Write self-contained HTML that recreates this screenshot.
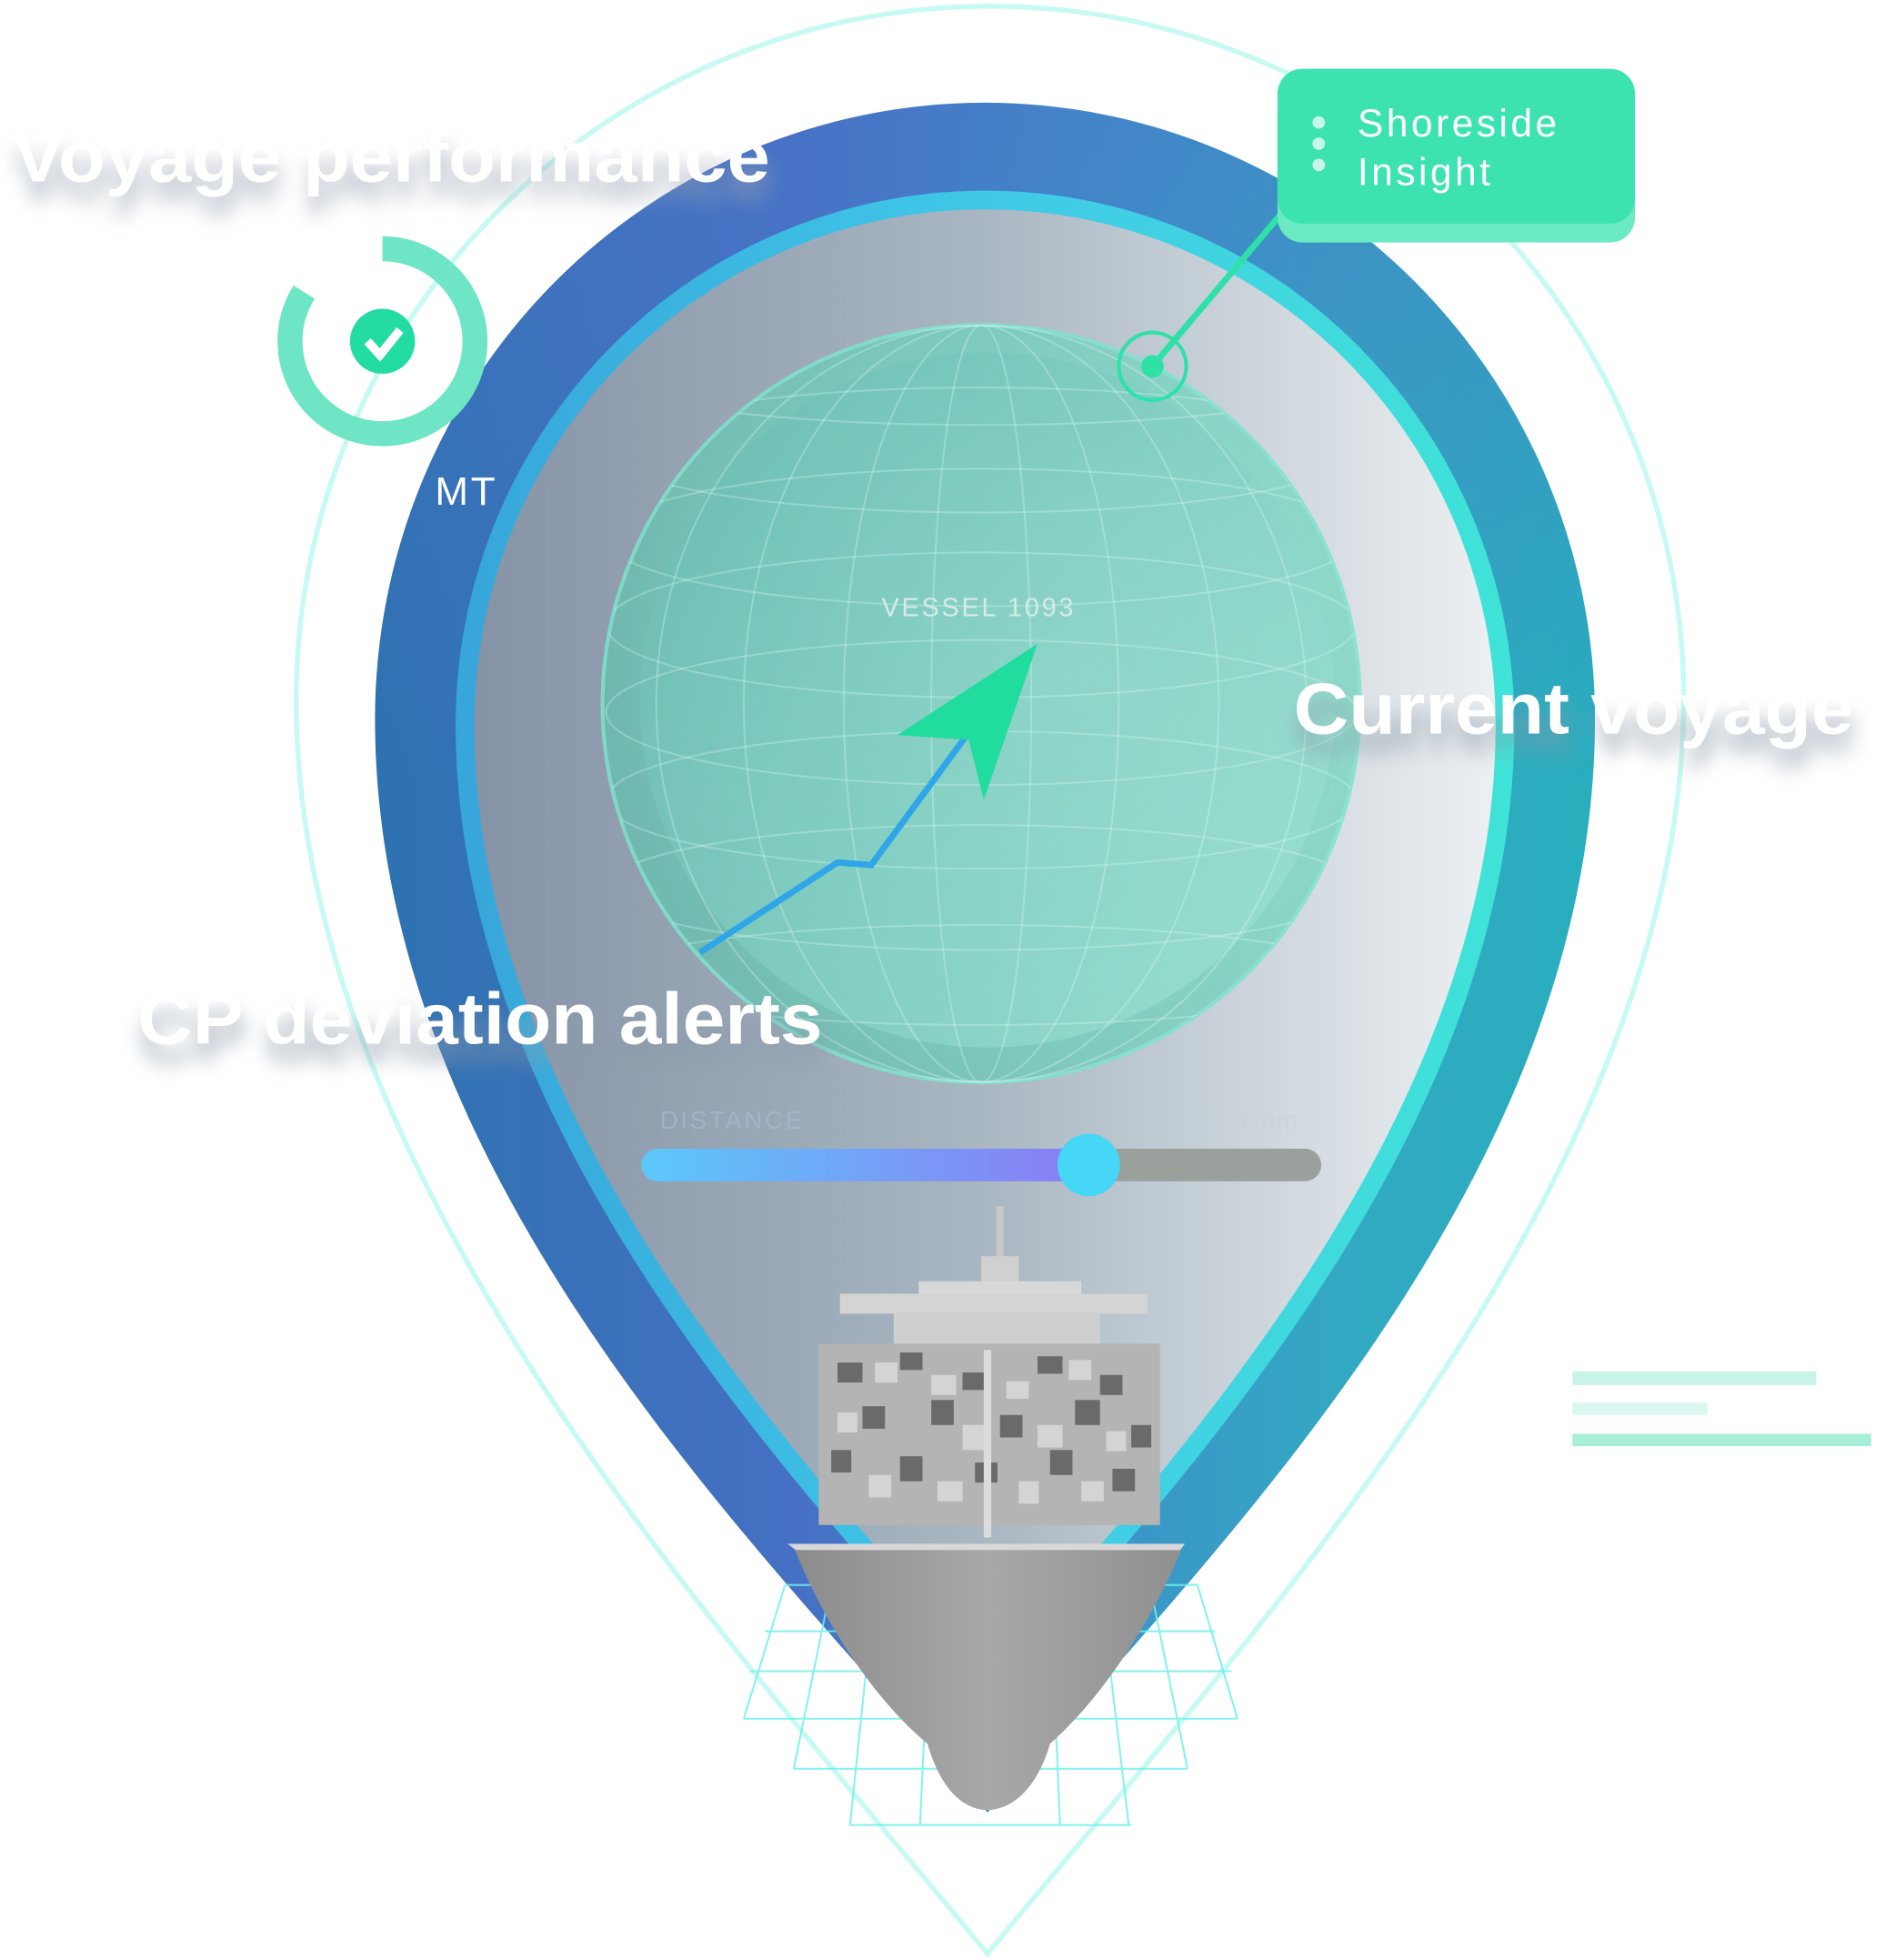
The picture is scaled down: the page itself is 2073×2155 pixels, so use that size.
<!DOCTYPE html>
<html><head><meta charset="utf-8"><style>
html,body{margin:0;padding:0;background:#fff;}
svg{display:block;}
text{font-family:"Liberation Sans",sans-serif;}
</style></head><body>
<svg width="2073" height="2155" viewBox="0 0 1508 1568" preserveAspectRatio="none" xmlns="http://www.w3.org/2000/svg">
<defs>
<linearGradient id="pinG" x1="0" y1="0" x2="1" y2="0">
<stop offset="0" stop-color="#2d72b0"/><stop offset="0.35" stop-color="#4670c4"/><stop offset="0.55" stop-color="#3d8fca"/><stop offset="0.8" stop-color="#33a9c2"/><stop offset="1" stop-color="#28aebd"/>
</linearGradient>
<linearGradient id="pinTop" x1="0" y1="0" x2="0" y2="1">
<stop offset="0" stop-color="#4a74c8" stop-opacity="0.5"/><stop offset="0.4" stop-color="#4a74c8" stop-opacity="0"/>
</linearGradient>
<linearGradient id="ringG" x1="0" y1="0" x2="1" y2="0">
<stop offset="0" stop-color="#37a6da"/><stop offset="0.5" stop-color="#40c8e8"/><stop offset="1" stop-color="#40e3d8"/>
</linearGradient>
<linearGradient id="innerG" x1="0" y1="0" x2="1" y2="0">
<stop offset="0" stop-color="#8593a6"/><stop offset="0.5" stop-color="#a9b7c2"/><stop offset="1" stop-color="#eef1f3"/>
</linearGradient>
<radialGradient id="globeG" cx="0.6" cy="0.45" r="0.6">
<stop offset="0" stop-color="#8fe0cc" stop-opacity="0.9"/><stop offset="0.7" stop-color="#6fd4bd" stop-opacity="0.85"/><stop offset="1" stop-color="#5ccab0" stop-opacity="0.7"/>
</radialGradient>
<linearGradient id="globe2" x1="0" y1="0" x2="1" y2="1">
<stop offset="0" stop-color="#62b8b0" stop-opacity="0.5"/><stop offset="1" stop-color="#a8e8da" stop-opacity="0.6"/>
</linearGradient>
<linearGradient id="trackG" gradientUnits="userSpaceOnUse" x1="513" y1="0" x2="870" y2="0">
<stop offset="0" stop-color="#5cc8fa"/><stop offset="1" stop-color="#8a7cf4"/>
</linearGradient>
<linearGradient id="hullG" x1="0" y1="0" x2="1" y2="0">
<stop offset="0" stop-color="#8c8c8c"/><stop offset="0.5" stop-color="#a8a8a8"/><stop offset="1" stop-color="#909090"/>
</linearGradient>
<filter id="sh" x="-20%" y="-50%" width="140%" height="220%"><feGaussianBlur stdDeviation="8"/></filter>
<clipPath id="gc"><circle cx="785" cy="563" r="303"/></clipPath>
</defs>

<path d="M790 1563 C600 1330 236 950 237 560 A555 555 0 0 1 1347 560 C1346 950 980 1330 790 1563 Z" fill="none" stroke="#c6faf2" stroke-width="4"/>

<path d="M790 1450 C620 1250 300 950 300 575 A488 493 0 0 1 1276 575 C1276 950 960 1250 790 1450 Z" fill="url(#pinG)"/>
<path d="M790 1450 C620 1250 300 950 300 575 A488 493 0 0 1 1276 575 C1276 950 960 1250 790 1450 Z" fill="url(#pinTop)"/>
<path d="M790 1350 C640 1180 372 900 372 580 A416 420 0 0 1 1204 580 C1204 900 940 1180 790 1350 Z" fill="url(#innerG)" stroke="url(#ringG)" stroke-width="15"/>

<circle cx="785" cy="563" r="303" fill="url(#globeG)" stroke="#7fe3cf" stroke-width="3" opacity="0.85"/>
<circle cx="790" cy="560" r="278" fill="url(#globe2)"/>
<g clip-path="url(#gc)" fill="none" stroke="#e6fff8" stroke-opacity="0.28" stroke-width="1.5">
<ellipse cx="785" cy="300" rx="300" ry="40"/>
<ellipse cx="785" cy="360" rx="300" ry="50"/>
<ellipse cx="785" cy="430" rx="300" ry="55"/>
<ellipse cx="785" cy="500" rx="300" ry="58"/>
<ellipse cx="785" cy="570" rx="300" ry="58"/>
<ellipse cx="785" cy="640" rx="300" ry="55"/>
<ellipse cx="785" cy="710" rx="300" ry="50"/>
<ellipse cx="785" cy="780" rx="300" ry="40"/>
<ellipse cx="785" cy="563" rx="40" ry="303"/>
<ellipse cx="785" cy="563" rx="110" ry="303"/>
<ellipse cx="785" cy="563" rx="190" ry="303"/>
<ellipse cx="785" cy="563" rx="260" ry="303"/>
</g>
<text x="783" y="493" text-anchor="middle" font-size="21" fill="#d6ebe6" letter-spacing="2">VESSEL 1093</text>
<polyline points="560,762 670,690 697,692 772,590" fill="none" stroke="#2fa6e8" stroke-width="5"/>
<polygon points="830,515 718,588 775,592 787,640" fill="#20dc9e"/>

<line x1="1030" y1="165" x2="922" y2="293" stroke="#2fe0a8" stroke-width="5"/>
<circle cx="922" cy="293" r="27" fill="none" stroke="#2fe0a8" stroke-width="3"/>
<circle cx="922" cy="293" r="9" fill="#2fe0a8"/>

<rect x="1022" y="70" width="286" height="124" rx="20" fill="#6ceac4"/>
<rect x="1022" y="55" width="286" height="124" rx="20" fill="#3ce2b0"/>
<circle cx="1055" cy="98" r="5" fill="#c6f6e6"/><circle cx="1055" cy="115" r="5" fill="#c6f6e6"/><circle cx="1055" cy="132" r="5" fill="#c6f6e6"/>
<text x="1086" y="109" font-size="31" fill="#fff" letter-spacing="2.5">Shoreside</text>
<text x="1086" y="148" font-size="31" fill="#fff" letter-spacing="2.5">Insight</text>

<circle cx="306" cy="273" r="74" fill="none" stroke="#6ee6c6" stroke-width="20" stroke-dasharray="390 80" transform="rotate(-90 306 273)"/>
<circle cx="306" cy="273" r="26" fill="#22dca4"/>
<polyline points="294,273 304,284 320,264" fill="none" stroke="#fff" stroke-width="7"/>
<text x="348" y="404" font-size="32" fill="#fff" letter-spacing="2">MT</text>

<text x="528" y="903" font-size="20" fill="#a9b9d0" letter-spacing="2" opacity="0.7">DISTANCE</text>
<text x="966" y="903" font-size="20" fill="#c8d2dc" letter-spacing="1" opacity="0.7">867 nm</text>
<line x1="526" y1="932" x2="1044" y2="932" stroke="#9aa09c" stroke-width="26" stroke-linecap="round"/>
<line x1="526" y1="932" x2="870" y2="932" stroke="url(#trackG)" stroke-width="26" stroke-linecap="round"/>
<circle cx="871" cy="932" r="25" fill="#46d6f6"/>

<g stroke="#6ff0ea" stroke-width="1.5" fill="none" opacity="0.85">
<line x1="628" y1="1268" x2="958" y2="1268"/>
<line x1="612" y1="1305" x2="972" y2="1305"/>
<line x1="600" y1="1337" x2="985" y2="1337"/>
<line x1="595" y1="1375" x2="990" y2="1375"/>
<line x1="635" y1="1415" x2="950" y2="1415"/>
<line x1="680" y1="1460" x2="905" y2="1460"/>
<line x1="628" y1="1268" x2="595" y2="1375"/>
<line x1="665" y1="1268" x2="635" y2="1415"/>
<line x1="700" y1="1268" x2="680" y2="1460"/>
<line x1="745" y1="1268" x2="736" y2="1460"/>
<line x1="840" y1="1268" x2="848" y2="1460"/>
<line x1="880" y1="1268" x2="903" y2="1460"/>
<line x1="920" y1="1268" x2="950" y2="1415"/>
<line x1="958" y1="1268" x2="990" y2="1375"/>
</g>

<g>
<rect x="797" y="965" width="6" height="70" fill="#c8c8c8"/>
<rect x="785" y="1005" width="30" height="30" fill="#d0d0d0"/>
<rect x="735" y="1025" width="130" height="16" fill="#d8d8d8"/>
<rect x="672" y="1035" width="246" height="16" fill="#d4d4d4"/>
<rect x="715" y="1050" width="165" height="25" fill="#cfcfcf"/>
<rect x="655" y="1075" width="273" height="145" fill="#b4b4b4"/>
<g fill="#6a6a6a">
<rect x="670" y="1090" width="20" height="16"/><rect x="720" y="1082" width="18" height="14"/><rect x="770" y="1098" width="18" height="14"/><rect x="830" y="1085" width="20" height="14"/><rect x="880" y="1100" width="18" height="16"/>
<rect x="690" y="1125" width="18" height="18"/><rect x="745" y="1120" width="18" height="20"/><rect x="800" y="1132" width="18" height="18"/><rect x="860" y="1120" width="20" height="20"/><rect x="905" y="1140" width="16" height="18"/>
<rect x="665" y="1160" width="16" height="18"/><rect x="720" y="1165" width="18" height="20"/><rect x="780" y="1170" width="18" height="16"/><rect x="840" y="1160" width="18" height="20"/><rect x="890" y="1175" width="18" height="18"/>
</g>
<g fill="#d4d4d4">
<rect x="700" y="1090" width="18" height="16"/><rect x="745" y="1100" width="20" height="16"/><rect x="805" y="1105" width="18" height="14"/><rect x="855" y="1088" width="18" height="16"/>
<rect x="670" y="1130" width="16" height="16"/><rect x="770" y="1140" width="22" height="20"/><rect x="830" y="1140" width="20" height="18"/><rect x="885" y="1145" width="16" height="16"/>
<rect x="695" y="1180" width="18" height="18"/><rect x="750" y="1185" width="20" height="16"/><rect x="815" y="1185" width="16" height="18"/><rect x="865" y="1185" width="18" height="16"/>
</g>
<rect x="787" y="1080" width="6" height="150" fill="#dcdcdc"/>
<path d="M630 1235 L948 1235 L930 1258 L660 1258 Z" fill="#d8d8d8"/>
<path d="M636 1240 L945 1240 C920 1300 880 1360 840 1395 C830 1430 810 1448 790 1448 C770 1448 752 1430 742 1395 C700 1360 660 1300 636 1240 Z" fill="url(#hullG)"/>
</g>

<rect x="1258" y="1097" width="195" height="11" fill="#c8f4ea"/>
<rect x="1258" y="1122" width="108" height="10" fill="#dcf8f0"/>
<rect x="1258" y="1147" width="239" height="10" fill="#a8eed8"/>

<g font-weight="bold" font-size="58">
<text x="12" y="160" fill="#9aa4b4" opacity="0.7" filter="url(#sh)" textLength="606" lengthAdjust="spacingAndGlyphs">Voyage performance</text>
<text x="10" y="145" fill="#fff" textLength="606" lengthAdjust="spacingAndGlyphs">Voyage performance</text>
<text x="1037" y="602" fill="#8a9aa8" opacity="0.7" filter="url(#sh)" textLength="448" lengthAdjust="spacingAndGlyphs">Current voyage</text>
<text x="1035" y="587" fill="#fff" textLength="448" lengthAdjust="spacingAndGlyphs">Current voyage</text>
<text x="112" y="850" fill="#8a9aa8" opacity="0.7" filter="url(#sh)" textLength="548" lengthAdjust="spacingAndGlyphs">CP deviation alerts</text>
<text x="110" y="835" fill="#fff" textLength="548" lengthAdjust="spacingAndGlyphs">CP deviation alerts</text>
</g>
</svg>
</body></html>
